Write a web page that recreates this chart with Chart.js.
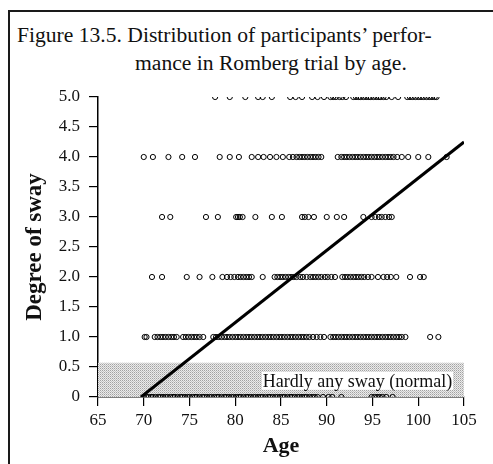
<!DOCTYPE html>
<html>
<head>
<meta charset="utf-8">
<script src="https://cdn.jsdelivr.net/npm/chart.js@4/dist/chart.umd.min.js"></script>
<style>
  body { margin: 0; background: #fff; }
  #wrap { position: relative; width: 493px; height: 464px; overflow: hidden; }
  #frame { position: absolute; left: 8px; top: 10px; width: 520px; height: 520px;
           border-top: 2px solid #1a1a1a; border-left: 2px solid #1a1a1a; }
  .cap { position: absolute; font-family: "Liberation Serif", serif; font-size: 21.6px;
         line-height: 28px; color: #111; white-space: nowrap; }
  canvas { position: absolute; left: 0; top: 0; }
</style>
</head>
<body>
<div id="wrap">
  <div id="frame"></div>
  <div class="cap" style="left:17px; top:21px;">Figure 13.5. Distribution of participants’ perfor-</div>
  <div class="cap" style="left:135px; top:49px;">mance in Romberg trial by age.</div>
  <canvas id="chart" width="493" height="464"></canvas>
</div>
<script>
// ages of participants at each degree of sway
const ages5 = [77.8, 79.4, 81.1, 82.5, 83.0, 84.0, 86.0, 86.6, 87.3, 88.4, 89.0, 89.7,
  90.4, 90.7, 91.0, 91.4, 91.7, 92.1, 92.9, 93.2, 93.5, 93.7, 94.0, 94.3, 94.6,
  94.8, 95.1, 95.4, 95.7, 95.9, 96.2, 96.5, 97.1, 97.8, 98.8, 99.1, 99.4, 99.7,
  100.0, 100.3, 100.6, 100.9, 101.2, 101.5, 101.8, 102.0];
const ages4 = [70.0, 71.0, 72.7, 74.2, 75.6, 78.3, 79.4, 80.4, 81.8, 82.5, 83.1, 83.8,
  84.5, 85.2, 85.9, 86.3, 86.7, 87.0, 87.3, 87.6, 87.9, 88.2, 88.5, 88.8, 89.1,
  89.4, 91.2, 91.6, 91.9, 92.2, 92.5, 92.8, 93.1, 93.4, 93.7, 94.0, 94.3, 94.6,
  94.9, 95.2, 95.5, 95.8, 96.1, 96.4, 96.7, 97.0, 97.3, 97.7, 98.2, 98.9, 100.0,
  101.1, 103.1];
const ages3 = [72.0, 72.9, 76.8, 78.1, 80.1, 80.3, 80.5, 80.8, 82.2, 84.0, 85.1, 87.3,
  87.6, 88.0, 88.6, 90.0, 91.1, 91.9, 94.0, 94.9, 95.3, 95.7, 96.0, 96.4, 96.8, 97.1];
const ages2 = [70.9, 72.0, 74.7, 76.1, 77.5, 78.6, 79.1, 79.5, 79.9, 80.3, 80.6, 80.9,
  81.2, 81.5, 81.8, 83.0, 84.3, 84.6, 84.9, 85.2, 85.5, 85.8, 86.1, 86.4, 86.7,
  87.1, 87.4, 87.8, 88.2, 88.5, 88.8, 89.1, 89.4, 89.8, 90.1, 90.5, 90.9, 91.7,
  92.0, 92.3, 92.6, 92.9, 93.2, 93.5, 93.8, 94.1, 94.5, 94.9, 95.6, 96.2, 96.6,
  97.0, 97.6, 99.1, 100.2, 100.6];
const ages1 = [70.1, 70.3, 71.2, 71.5, 71.8, 72.1, 72.4, 72.7, 73.0, 73.3, 73.6, 74.3,
  74.6, 74.9, 75.2, 75.5, 75.8, 76.1, 76.5, 77.6, 77.9, 78.2, 78.5, 78.8, 79.1,
  79.4, 79.7, 80.0, 80.3, 80.6, 80.9, 81.2, 81.5, 81.8, 82.1, 82.4, 82.7, 83.0,
  83.3, 83.6, 83.9, 84.2, 84.5, 84.8, 85.1, 85.4, 85.7, 86.0, 86.3, 86.6, 86.9,
  87.2, 87.5, 87.8, 88.1, 88.5, 88.9, 89.3, 89.7, 90.4, 90.7, 91.0, 91.3, 91.6,
  91.9, 92.2, 92.5, 92.8, 93.1, 93.4, 93.7, 94.0, 94.3, 94.6, 94.9, 95.2, 95.5,
  95.8, 96.1, 96.4, 96.7, 97.0, 97.3, 97.6, 97.9, 98.2, 98.6, 101.3, 102.2];
const ages0 = [70.0, 70.3, 70.5, 70.8, 71.0, 71.3, 71.6, 71.8, 72.1, 72.4, 72.6, 72.9,
  73.2, 73.4, 73.7, 74.0, 74.2, 74.5, 74.8, 75.0, 75.3, 75.6, 75.8, 76.1, 76.4,
  76.6, 76.9, 77.2, 77.4, 77.7, 78.0, 78.2, 78.5, 78.8, 79.0, 79.3, 79.6, 79.8,
  80.1, 80.4, 80.6, 80.9, 81.2, 81.4, 81.7, 82.0, 82.2, 82.5, 82.8, 83.0, 83.3,
  83.6, 83.8, 84.1, 84.4, 84.6, 84.9, 85.2, 85.4, 85.7, 86.0, 86.2, 86.5, 86.8,
  87.0, 87.3, 87.6, 87.8, 88.1, 88.4, 88.7, 89.0, 89.6, 90.2, 90.6, 91.6, 94.9,
  95.2, 95.5, 95.8, 96.1, 96.5, 97.2];
const swayLevels = [0, 1, 2, 3, 4, 5];

// fitted line and the "normal" band
const trendAge = [69.7, 105];
const trendSway = [0, 4.25];
const normalAge = [65, 105];
const normalSway = [0.57, 0.57];

const xTickLabels = ['65', '70', '75', '80', '85', '90', '95', '100', '105'];
const yTickLabels = ['0', '0.5', '1.0', '1.5', '2.0', '2.5', '3.0', '3.5', '4.0', '4.5', '5.0'];

const serif = 'Liberation Serif';

// stippled grey like the printed halftone
function makeStipple() {
    const c = document.createElement('canvas');
    c.width = 2; c.height = 2;
    const g = c.getContext('2d');
    g.fillStyle = '#ebebeb'; g.fillRect(0, 0, 2, 2);
    g.fillStyle = '#a2a2a2'; g.fillRect(0, 0, 1, 1);
    g.fillStyle = '#c4c4c4'; g.fillRect(1, 1, 1, 1);
    return g.createPattern(c, 'repeat');
}

const rows = [ages0, ages1, ages2, ages3, ages4, ages5];
const points = [];
rows.forEach((ages, i) => {
    ages.forEach(a => points.push({ x: a, y: swayLevels[i] }));
});

const labelBox = {
    id: 'labelBox',
    afterDatasetsDraw(chart) {
        const ctx = chart.ctx;
        const x = chart.scales.x, y = chart.scales.y;
        const l = x.getPixelForValue(82.9), r = x.getPixelForValue(103.8);
        const t = y.getPixelForValue(0.42), b = y.getPixelForValue(0.12);
        ctx.save();
        ctx.fillStyle = '#fff';
        ctx.fillRect(l, t, r - l, b - t);
        ctx.fillStyle = '#111';
        ctx.font = '18px "' + serif + '"';
        ctx.textAlign = 'center';
        ctx.textBaseline = 'middle';
        ctx.fillText('Hardly any sway (normal)', (l + r) / 2, (t + b) / 2 + 1);
        ctx.restore();
    }
};

new Chart(document.getElementById('chart'), {
    type: 'scatter',
    data: {
        datasets: [
            {
                type: 'line',
                data: trendAge.map((a, i) => ({ x: a, y: trendSway[i] })),
                borderColor: '#000',
                borderWidth: 3,
                pointRadius: 0,
                fill: false,
                order: 0
            },
            {
                data: points,
                pointStyle: 'circle',
                pointRadius: 2.6,
                borderColor: '#000',
                borderWidth: 1,
                backgroundColor: 'rgba(255,255,255,0)',
                order: 1
            },
            {
                type: 'line',
                data: normalAge.map((a, i) => ({ x: a, y: normalSway[i] })),
                borderWidth: 0,
                pointRadius: 0,
                backgroundColor: makeStipple(),
                fill: 'origin',
                order: 2
            }
        ]
    },
    options: {
        responsive: false,
        animation: false,
        events: [],
        layout: { padding: { left: 21, top: 97, right: 29, bottom: 0 } },
        plugins: { legend: { display: false }, tooltip: { enabled: false } },
        scales: {
            x: {
                type: 'linear',
                min: 65, max: 105,
                afterFit(s) { s.height = 67; },
                ticks: {
                    stepSize: 5,
                    padding: 4,
                    color: '#111',
                    font: { family: serif, size: 17 },
                    callback: (v, i) => xTickLabels[i]
                },
                grid: { drawOnChartArea: false, tickLength: 9, color: '#000', lineWidth: 1.2 },
                border: { color: '#000', width: 1.5 },
                title: {
                    display: true, text: 'Age', color: '#111',
                    font: { family: serif, size: 22, weight: 'bold' },
                    padding: { top: 4, bottom: 4 }
                }
            },
            y: {
                min: 0, max: 5,
                afterFit(s) { s.width = 77; },
                ticks: {
                    stepSize: 0.5,
                    padding: 9,
                    color: '#111',
                    font: { family: serif, size: 17 },
                    callback: (v, i) => yTickLabels[i]
                },
                grid: { drawOnChartArea: false, tickLength: 9, color: '#000', lineWidth: 1.2 },
                border: { color: '#000', width: 1.5 },
                title: {
                    display: true, text: 'Degree of sway', color: '#111',
                    font: { family: serif, size: 23, weight: 'bold' },
                    padding: { top: 0, bottom: 0 }
                }
            }
        }
    },
    plugins: [labelBox]
});
</script>
</body>
</html>
